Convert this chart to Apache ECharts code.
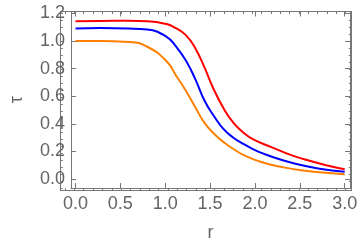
<!DOCTYPE html>
<html><head><meta charset="utf-8">
<script src="https://cdn.jsdelivr.net/npm/echarts@6/dist/echarts.min.js"></script>
<style>html,body{margin:0;padding:0;background:#fff}#c{width:360px;height:247px}</style>
</head><body><div id="c"></div>
<script>
const orangeR = [0, 0.27, 0.59, 0.8, 1.015, 1.12, 1.23, 1.335, 1.44, 1.55, 1.656, 1.76, 1.87, 2.08, 2.3, 2.51, 2.72, 3.0];
const orangeT = [1.0, 1.0, 0.993, 0.958, 0.853, 0.75, 0.64, 0.52, 0.405, 0.325, 0.265, 0.218, 0.176, 0.122, 0.088, 0.064, 0.05, 0.036];
const blueR = [0, 0.27, 0.59, 0.8, 1.015, 1.12, 1.23, 1.335, 1.44, 1.55, 1.656, 1.76, 1.87, 1.976, 2.08, 2.3, 2.51, 2.72, 3.0];
const blueT = [1.09, 1.093, 1.09, 1.082, 1.03, 0.96, 0.858, 0.724, 0.565, 0.45, 0.358, 0.3, 0.255, 0.218, 0.188, 0.138, 0.103, 0.076, 0.053];
const redR = [0, 0.27, 0.59, 0.8, 1.015, 1.12, 1.23, 1.335, 1.44, 1.53, 1.656, 1.763, 1.87, 1.976, 2.19, 2.404, 2.618, 2.83, 3.0];
const redT = [1.143, 1.145, 1.146, 1.143, 1.122, 1.092, 1.042, 0.948, 0.805, 0.665, 0.505, 0.405, 0.338, 0.29, 0.23, 0.174, 0.131, 0.095, 0.071];
const xTickLabels = [0, 0.5, 1, 1.5, 2, 2.5, 3];
const yTickLabels = [0, 0.2, 0.4, 0.6, 0.8, 1.0, 1.2];
const xMinor = []; for (let i = 0; i <= 30; i++) xMinor.push(i / 10);

const frameColor = '#777777';
const labelColor = '#646464';
const XMIN = -0.05, XMAX = 3.06, YMIN = -0.064, YMAX = 1.213;
const gridRect = {left: 60.3, right: 8.7, top: 11.5, bottom: 56.3, containLabel: false};

function xAx(g, pos, showLabel, ticks, len, name) {
  return {
    type: 'value', gridIndex: g, position: pos, min: XMIN, max: XMAX,
    name: name || '', nameLocation: 'middle', nameGap: 36,
    nameTextStyle: {color: labelColor, fontSize: 18, fontFamily: 'Liberation Sans'},
    axisLine: {show: true, onZero: false, lineStyle: {color: frameColor, width: 1}},
    axisTick: {show: true, inside: true, length: len, customValues: ticks, lineStyle: {color: frameColor}},
    axisLabel: {show: showLabel, customValues: xTickLabels, color: labelColor, fontSize: 18, margin: 7, fontFamily: 'Liberation Sans',
      formatter: v => v.toFixed(1)},
    splitLine: {show: false}
  };
}
// y ticks: nice ticks from splitNumber (0.2 major, 0.05 minor) at multiples of the step
function yAx(g, pos, showLabel, splitNumber, len, name) {
  return {
    type: 'value', gridIndex: g, position: pos, min: YMIN, max: YMAX, splitNumber: splitNumber,
    name: name || '', nameLocation: 'middle', nameGap: 45, nameRotate: 90,
    nameTextStyle: {color: labelColor, fontSize: 18, fontFamily: 'Liberation Sans'},
    axisLine: {show: true, onZero: false, lineStyle: {color: frameColor, width: 1}},
    axisTick: {show: true, inside: true, length: len, lineStyle: {color: frameColor}},
    axisLabel: {show: showLabel, customValues: yTickLabels, color: labelColor, fontSize: 18, margin: 6, fontFamily: 'Liberation Sans',
      formatter: v => v.toFixed(1)},
    splitLine: {show: false}
  };
}
const mk = (r, t) => r.map((x, i) => [x, t[i]]);
const chart = echarts.init(document.getElementById('c'), null, {renderer: 'canvas'});
chart.setOption({
  animation: false,
  grid: [Object.assign({}, gridRect), Object.assign({}, gridRect)],
  xAxis: [
    xAx(0, 'bottom', true, xTickLabels, 5, 'r'),
    xAx(0, 'top', false, xTickLabels, 5),
    xAx(1, 'bottom', false, xMinor, 2.5),
    xAx(1, 'top', false, xMinor, 2.5)
  ],
  yAxis: [
    yAx(0, 'left', true, 6, 5, 'τ'),
    yAx(0, 'right', false, 6, 5),
    yAx(1, 'left', false, 25, 2.5),
    yAx(1, 'right', false, 25, 2.5)
  ],
  series: [
    {type: 'line', xAxisIndex: 0, yAxisIndex: 0, data: mk(orangeR, orangeT), smooth: 0.5, showSymbol: false, lineStyle: {color: '#ff8000', width: 2}},
    {type: 'line', xAxisIndex: 0, yAxisIndex: 0, data: mk(blueR, blueT), smooth: 0.5, showSymbol: false, lineStyle: {color: '#0000ff', width: 2}},
    {type: 'line', xAxisIndex: 0, yAxisIndex: 0, data: mk(redR, redT), smooth: 0.5, showSymbol: false, lineStyle: {color: '#ff0000', width: 2}}
  ]
});
</script></body></html>
